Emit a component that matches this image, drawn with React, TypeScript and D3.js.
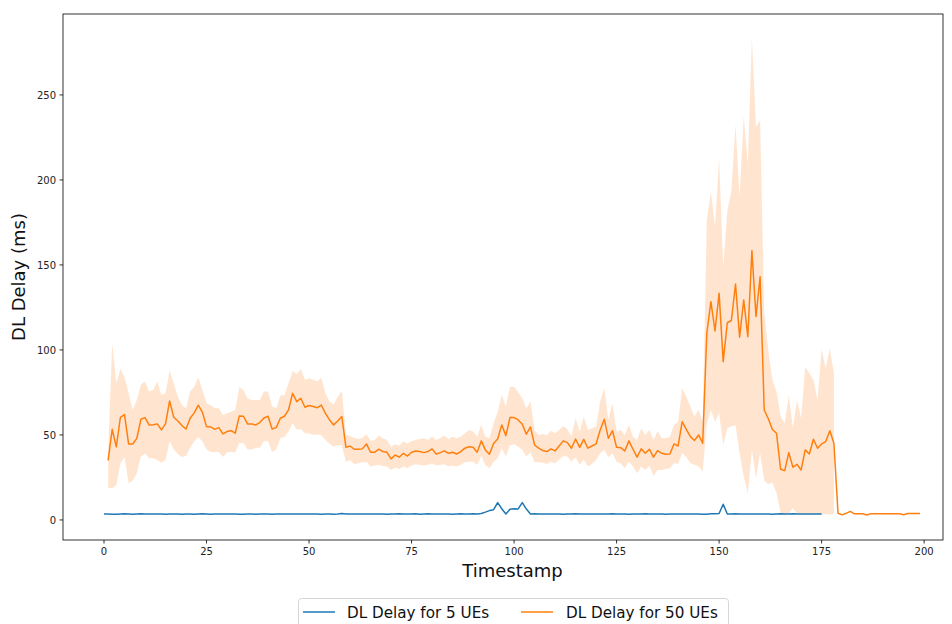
import React from "react";
import * as d3 from "d3";

// Mean DL delay (ms) for 50 UEs, timestamps 1..199
const delay50Mean: number[] = [
  35, 53.3, 43, 60.4, 62, 44.7, 44.7, 48, 59.2, 60.2,
  55.9, 56, 56.5, 53, 56.5, 70, 60.4, 58.2, 55.5, 53.5,
  59.8, 63, 67.5, 63.3, 54.9, 54.7, 53.3, 54.3, 50.6, 52,
  52.5, 51, 61.2, 61, 56.5, 56.5, 55.9, 57.3, 60, 61,
  53.5, 54.3, 59.8, 61, 64.7, 74.5, 69.6, 71.6, 66.3, 67.3,
  66.7, 66, 67.6, 62.7, 58.8, 55.9, 58.2, 60.8, 42.7, 43.5,
  41.6, 41.6, 41.8, 44.7, 39.8, 39.8, 41.6, 40.2, 39.8, 35.9,
  38.2, 36.9, 39.2, 37.6, 39.8, 40.6, 40.2, 39.6, 40.2, 41.8,
  38.8, 39.6, 40.6, 39.2, 39.8, 38.8, 40.2, 42.2, 43, 42.8,
  39.8, 46.5, 41.2, 38.6, 45, 47.6, 55.9, 49.6, 60.2, 60.2,
  58.8, 56.3, 50.4, 54.7, 44.1, 42.2, 40.8, 40.2, 41.8, 40.6,
  43.5, 46.5, 45.5, 42.2, 47.6, 42.7, 47.4, 42.2, 43.5, 44.7,
  52.9, 59.2, 48, 52.5, 42.7, 42.5, 40.6, 46.5, 41.6, 36.9,
  41.8, 39.2, 41.6, 36.9, 40.8, 39.2, 38.6, 38.8, 44.7, 43.5,
  57.8, 53.3, 49, 46.7, 50, 45.1, 109.8, 128.4, 111.2, 133.3,
  93.1, 116, 117.3, 138.8, 107.5, 129.4, 107.8, 158.4, 119.6, 143.1,
  64.7, 59.5, 53.2, 51, 29.8, 29, 39.6, 31, 32.7, 29.4,
  41.2, 38.8, 47.5, 42.2, 44.7, 46.1, 52.5, 45.1, 3.9, 3.0,
  3.9, 5.0, 3.6, 3.6, 3.6, 2.9, 3.7, 3.7, 3.7, 3.7,
  3.7, 3.7, 3.7, 3.7, 3.1, 3.8, 3.8, 3.8, 3.8,
];

// Upper edge of the 50-UE confidence band, timestamps 1..178
const delay50Upper: number[] = [
  40, 104, 80.4, 89, 84, 74.5, 64.7, 70.6, 79.6, 81.4,
  75.5, 76.5, 81.4, 73.5, 74.5, 87.8, 80.4, 72.5, 67.6, 65.7,
  75.5, 78.4, 84, 76.5, 68.6, 67.6, 65.7, 65.7, 61.8, 62.7,
  63.7, 64.7, 78, 76.5, 71.6, 70.6, 70.6, 70.6, 75.5, 75.5,
  66.7, 65.7, 73, 73.5, 80.4, 87.8, 85.9, 88.6, 82.4, 83.3,
  82.4, 81.4, 83.7, 74.5, 69.6, 68, 72.5, 75.9, 50, 49.4,
  48.4, 47.6, 48.4, 50.4, 46.5, 47, 49.6, 48, 47, 43.1,
  44.5, 43.7, 46.1, 45, 46.5, 47, 47.6, 48, 47, 49,
  47, 48.4, 49.6, 47.6, 49, 48, 49, 51, 52.9, 52,
  49, 55.9, 49, 48, 56.9, 63.7, 73.5, 66.7, 78.4, 78.4,
  75.1, 71.6, 65.7, 69.6, 52.9, 50, 50.6, 50, 52.5, 51,
  52.9, 55.3, 53.3, 49.4, 59.8, 51.9, 60.8, 52.9, 53.9, 54.9,
  69.6, 77.4, 58.8, 68.6, 51.9, 52.9, 50, 55.9, 49, 47,
  53.9, 50, 52.9, 47, 52.3, 48, 48, 49, 55.9, 57.8,
  77.4, 72.5, 66.7, 60.8, 64.7, 57.8, 176.5, 193.1, 172.5, 212.7,
  149, 181.4, 193.8, 232.4, 190.2, 237.3, 209.8, 283.3, 231.4, 235.3,
  121.6, 100, 82.4, 75.5, 60.8, 56.9, 73.5, 54, 70.6, 59.8,
  89.8, 86.3, 82.4, 70.6, 100.4, 89.2, 101, 86.3,
];

// Lower edge of the 50-UE confidence band, timestamps 1..178
const delay50Lower: number[] = [
  19, 18.6, 20.6, 33, 37, 21.6, 23, 27.5, 37.3, 39,
  36.3, 36.3, 35.3, 33.7, 35.3, 46.3, 41.4, 38.8, 37, 37.6,
  42.4, 46.3, 48.6, 46.3, 41.4, 40, 40, 40, 37, 39.6,
  40, 39.6, 45.3, 45.3, 41.4, 41.4, 42.4, 42.4, 46.3, 46.3,
  40, 41.6, 48, 49, 52, 57, 53, 53.5, 51, 51,
  50, 50.3, 50, 47, 45, 43.1, 44, 44, 34.3, 35.3,
  32.8, 33.3, 34, 34.3, 31.4, 32, 32.3, 31.8, 31.4, 29.4,
  30.8, 30, 31.4, 30.4, 32, 32.8, 32.3, 32, 32.3, 33.3,
  32, 32.3, 32.8, 31.4, 32, 31.4, 32.3, 34, 34.3, 34.3,
  32.3, 37.8, 32.3, 30.4, 34.3, 36.3, 42.2, 37.3, 44, 44.5,
  43.1, 41.2, 37.3, 39.8, 34, 34, 33.7, 32.9, 34.3, 33.3,
  35.5, 37.6, 37.3, 34.3, 36.9, 32.4, 35.5, 31.4, 32.9, 35.3,
  39.2, 41.2, 36.9, 39.2, 34.3, 33.3, 30.4, 34.3, 31.4, 27.5,
  31.4, 29.4, 31.8, 25.9, 29.4, 29.4, 30, 30.4, 33.3, 32.9,
  39.2, 36.9, 33.3, 32.4, 31.4, 28.4, 56.9, 64.7, 57.8, 62.7,
  44.1, 53.9, 54.9, 55.9, 39.2, 25.5, 15.7, 41.2, 24.5, 39.2,
  23, 21, 22, 16, 4, 3.2, 3.5, 7, 3.5, 3.2,
  3.3, 3.2, 3.4, 3.2, 3.3, 3.2, 3.3, 3.5,
];

// DL delay (ms) for 5 UEs, timestamps 0..175
const delay5: number[] = [
  3.5, 3.5, 3.4, 3.4, 3.5, 3.6, 3.5, 3.4, 3.5, 3.6,
  3.5, 3.5, 3.5, 3.5, 3.5, 3.4, 3.5, 3.5, 3.5, 3.4,
  3.5, 3.5, 3.3, 3.5, 3.6, 3.5, 3.4, 3.5, 3.5, 3.5,
  3.5, 3.5, 3.5, 3.4, 3.4, 3.5, 3.5, 3.3, 3.5, 3.5,
  3.5, 3.4, 3.5, 3.5, 3.5, 3.5, 3.5, 3.5, 3.5, 3.5,
  3.5, 3.5, 3.5, 3.4, 3.5, 3.5, 3.4, 3.5, 3.8, 3.5,
  3.5, 3.5, 3.5, 3.5, 3.5, 3.5, 3.5, 3.5, 3.5, 3.3,
  3.5, 3.5, 3.6, 3.5, 3.5, 3.5, 3.6, 3.4, 3.5, 3.6,
  3.5, 3.5, 3.5, 3.5, 3.5, 3.4, 3.5, 3.6, 3.5, 3.5,
  3.6, 3.5, 3.8, 4.6, 5.5, 6.0, 10.2, 6.6, 3.5, 6.3,
  6.6, 6.5, 10.2, 6.4, 3.5, 3.6, 3.5, 3.5, 3.5, 3.5,
  3.5, 3.5, 3.3, 3.5, 3.5, 3.6, 3.5, 3.5, 3.5, 3.5,
  3.5, 3.5, 3.5, 3.5, 3.6, 3.5, 3.5, 3.5, 3.3, 3.5,
  3.5, 3.5, 3.6, 3.5, 3.5, 3.5, 3.5, 3.4, 3.5, 3.5,
  3.5, 3.5, 3.5, 3.5, 3.5, 3.5, 3.4, 3.3, 3.6, 3.7,
  3.8, 9.2, 3.5, 3.5, 3.6, 3.5, 3.5, 3.5, 3.5, 3.5,
  3.5, 3.5, 3.5, 3.3, 3.5, 3.6, 3.5, 3.5, 3.6, 3.5,
  3.5, 3.5, 3.5, 3.5, 3.5, 3.5,
];

const xTicks: number[] = [0, 25, 50, 75, 100, 125, 150, 175, 200];
const yTicks: number[] = [0, 50, 100, 150, 200, 250];
const seriesLabels: string[] = ["DL Delay for 5 UEs", "DL Delay for 50 UEs"];

const W = 952;
const H = 624;
const margin = { left: 63, right: 943, top: 14, bottom: 540 };
const BLUE = "#1f77b4";
const ORANGE = "#ff7f0e";
const FONT = "DejaVu Sans, sans-serif";

type Pt = { t: number; v: number };
type Band = { t: number; lo: number; hi: number };

export default function App() {
  const x = d3.scaleLinear().domain([-10, 204.6]).range([margin.left, margin.right]);
  const y = d3.scaleLinear().domain([-11.8, 297.6]).range([margin.bottom, margin.top]);

  const blueData: Pt[] = delay5.map((v, i) => ({ t: i, v }));
  const orangeData: Pt[] = delay50Mean.map((v, i) => ({ t: i + 1, v }));
  const bandData: Band[] = delay50Upper.map((hi, i) => ({ t: i + 1, hi, lo: delay50Lower[i] }));

  const line = d3
    .line<Pt>()
    .x((d) => x(d.t))
    .y((d) => y(d.v));
  const area = d3
    .area<Band>()
    .x((d) => x(d.t))
    .y0((d) => y(d.lo))
    .y1((d) => y(d.hi));

  const plotW = margin.right - margin.left;
  const plotH = margin.bottom - margin.top;

  return (
    <svg
      width={W}
      height={H}
      style={{ position: "absolute", left: 0, top: 0, background: "#fff" }}
      fontFamily={FONT}
    >
      <rect x={0} y={0} width={W} height={H} fill="#fff" />
      <defs>
        <clipPath id="plot-clip">
          <rect x={margin.left} y={margin.top} width={plotW} height={plotH} />
        </clipPath>
      </defs>

      <g clipPath="url(#plot-clip)">
        <path d={area(bandData) ?? ""} fill={ORANGE} fillOpacity={0.2} stroke="none" />
        <path d={line(blueData) ?? ""} fill="none" stroke={BLUE} strokeWidth={1.5} strokeLinejoin="round" />
        <path d={line(orangeData) ?? ""} fill="none" stroke={ORANGE} strokeWidth={1.5} strokeLinejoin="round" />
      </g>

      {/* frame */}
      <rect
        x={margin.left}
        y={margin.top}
        width={plotW}
        height={plotH}
        fill="none"
        stroke="#000"
        strokeWidth={0.8}
      />

      {/* x axis ticks */}
      {xTicks.map((t) => (
        <g key={`xt${t}`}>
          <line x1={x(t)} x2={x(t)} y1={margin.bottom} y2={margin.bottom + 3.5} stroke="#000" strokeWidth={0.8} />
          <text x={x(t)} y={margin.bottom + 15} textAnchor="middle" fontSize={10} fill="#222">
            {t}
          </text>
        </g>
      ))}

      {/* y axis ticks */}
      {yTicks.map((v) => (
        <g key={`yt${v}`}>
          <line x1={margin.left - 3.5} x2={margin.left} y1={y(v)} y2={y(v)} stroke="#000" strokeWidth={0.8} />
          <text x={margin.left - 7} y={y(v) + 3.6} textAnchor="end" fontSize={10} fill="#222">
            {v}
          </text>
        </g>
      ))}

      <text x={512.5} y={577} textAnchor="middle" fontSize={18} fill="#111">
        Timestamp
      </text>
      <text
        transform={`translate(25, ${(margin.top + margin.bottom) / 2}) rotate(-90)`}
        textAnchor="middle"
        fontSize={18}
        fill="#111"
      >
        DL Delay (ms)
      </text>

      {/* legend */}
      <g>
        <rect x={298.5} y={598.5} width={430} height={40} rx={3} fill="#fff" stroke="#d6d6d6" strokeWidth={1} />
        <line x1={303} x2={335} y1={612} y2={612} stroke={BLUE} strokeWidth={1.5} />
        <text x={347} y={617.5} fontSize={15.2} fill="#111">
          {seriesLabels[0]}
        </text>
        <line x1={521} x2={553} y1={612} y2={612} stroke={ORANGE} strokeWidth={1.5} />
        <text x={566} y={617.5} fontSize={15.2} fill="#111">
          {seriesLabels[1]}
        </text>
      </g>
    </svg>
  );
}
